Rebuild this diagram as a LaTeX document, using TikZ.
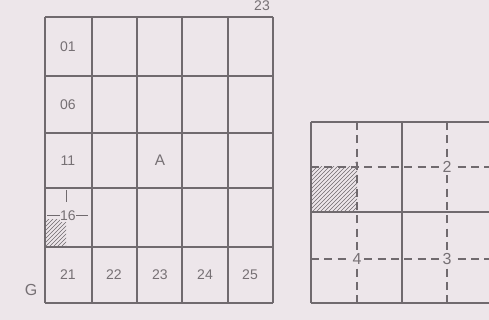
\documentclass[tikz,border=0pt]{standalone}
\usepackage{fontspec}
\setmainfont{Liberation Sans}
\usetikzlibrary{patterns}
\definecolor{bg}{RGB}{237,230,234}
\definecolor{ln}{RGB}{112,106,110}
\definecolor{tx}{RGB}{118,112,116}
\begin{document}
\begin{tikzpicture}[x=0.75pt,y=-0.75pt,
  gridline/.style={draw=ln,line width=1pt},
  dashline/.style={draw=ln,line width=0.9pt,dash pattern=on 6pt off 4pt},
  lbl/.style={text=tx,font=\fontsize{10.5}{12}\selectfont,inner sep=1pt},
  numlbl/.style={text=tx,font=\fontsize{12}{13}\selectfont,inner sep=1pt,fill=bg}]
\fill[bg] (0,0) rectangle (489,320);
\useasboundingbox (0,0) rectangle (489,320);
% left grid
\foreach \x in {45,92,137,182,228,273} \draw[gridline] (\x,17) -- (\x,303);
\foreach \y in {17,76,133,188,247,303} \draw[gridline] (45,\y) -- (273,\y);
% tiny hatch in cell 16
\fill[pattern=north east lines,pattern color=ln] (46,220) rectangle (66,246);
\draw[ln,line width=0.6pt] (66,190) -- (66,202);
\draw[ln,line width=0.6pt] (47,215) -- (88,215);
\node[lbl,fill=bg,inner sep=0.5pt] (n16) at (68,216) {16};
\node[lbl] (n01) at (68,47) {01};
\node[lbl] (n06) at (68,105) {06};
\node[lbl] (n11) at (68,161) {11};
\node[lbl,font=\fontsize{11.5}{13}\selectfont] (nA) at (160,160) {A};
\node[lbl] (n21) at (68,275) {21};
\node[lbl] (n22) at (114,275) {22};
\node[lbl] (n23) at (160,275) {23};
\node[lbl] (n24) at (205,275) {24};
\node[lbl] (n25) at (250,275) {25};
\node[lbl,font=\fontsize{12}{13}\selectfont] (nG) at (31,290) {G};
\node[lbl] (ntop) at (262,6) {23};
% right grid
\fill[pattern=north east lines,pattern color=ln] (312,167) rectangle (357,212);
\draw[gridline] (311,122) -- (489,122);
\draw[gridline] (311,212) -- (489,212);
\draw[gridline] (311,303) -- (489,303);
\draw[gridline] (311,122) -- (311,303);
\draw[gridline] (402,122) -- (402,303);
\draw[dashline] (357,122) -- (357,303);
\draw[dashline] (447,122) -- (447,303);
\draw[dashline] (311,167) -- (489,167);
\draw[dashline] (311,259) -- (489,259);
\node[numlbl] (r2) at (447,167) {2};
\node[numlbl] (r4) at (357,259) {4};
\node[numlbl] (r3) at (447,259) {3};
\node[lbl,font=\fontsize{7}{8}\selectfont] (r1) at (357,165) {1};
\end{tikzpicture}
\end{document}
